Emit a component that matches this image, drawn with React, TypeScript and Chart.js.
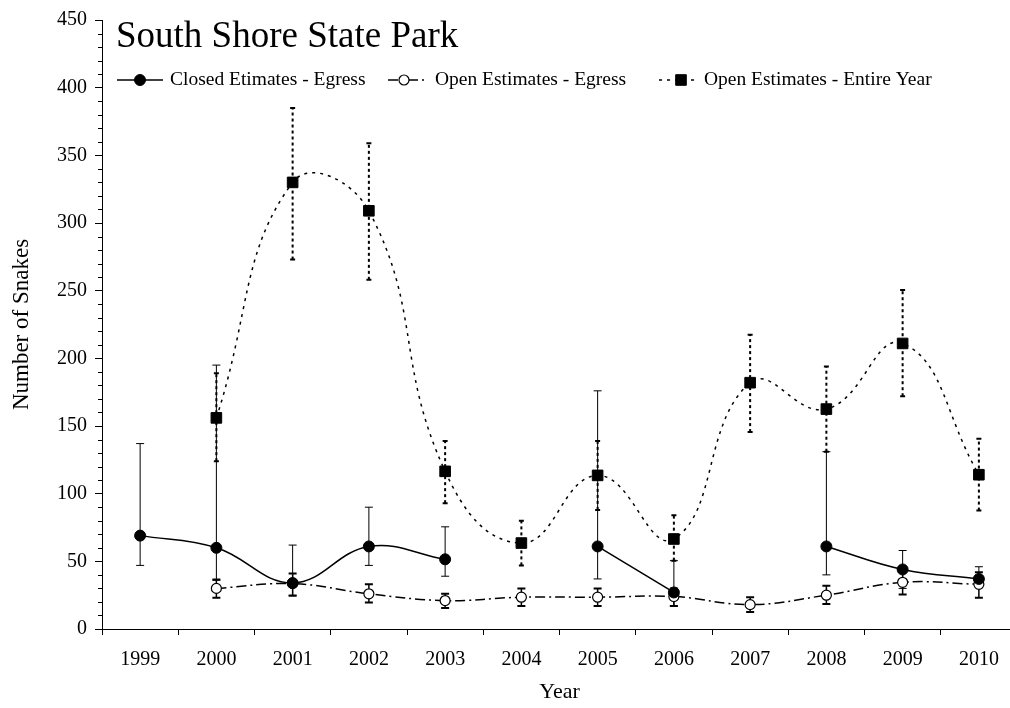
import React, { useEffect, useRef } from 'react';
import { Chart, registerables } from 'chart.js';

Chart.register(...registerables);

const years = ['1999', '2000', '2001', '2002', '2003', '2004', '2005', '2006', '2007', '2008', '2009', '2010'];

const closedEgress = [69, 60, 34, 61, 51.5, null, 61, 27, null, 61, 44, 37];
const closedLow = [47, 36, 25, 47, 39, null, 37, 17, null, 40, 30, 31];
const closedHigh = [137, 195, 62, 90, 75.5, null, 176, 50.5, null, 131, 58, 46];

const openEgress = [null, 30, 33.5, 26, 21, 23.5, 23.5, 24, 18, 25, 34.5, 33];
const openLow = [null, 23, 24.5, 19.5, 15.5, 17, 17, 17, 12.5, 18.5, 25.5, 23];
const openHigh = [null, 36.5, 41, 33, 26, 30, 30, 30, 23.5, 32, 43, 42];

const entireYear = [null, 156, 330, 309, 116.5, 63.5, 113.5, 66.5, 182, 162.5, 211, 114];
const entireLow = [null, 124, 273, 258, 93, 47, 88, 50.5, 145.5, 131, 172, 87.5];
const entireHigh = [null, 189, 385, 359, 139, 80, 139, 84, 217.5, 194, 250.5, 140.5];

const yTicks = [0, 50, 100, 150, 200, 250, 300, 350, 400, 450];

const seriesNames = ['Closed Etimates - Egress', 'Open Estimates - Egress', 'Open Estimates - Entire Year'];
const chartTitle = 'South Shore State Park';

const SERIF = '"Liberation Serif", "Times New Roman", serif';

const errorBars = [
  { low: closedLow, high: closedHigh, width: 1, cap: 4, dash: [] as number[], capWidth: 1 },
  { low: openLow, high: openHigh, width: 1.5, cap: 4, dash: [] as number[], capWidth: 2 },
  { low: entireLow, high: entireHigh, width: 2, cap: 2.5, dash: [3, 3], capWidth: 2 },
];

const errorBarPlugin = {
  id: 'errorBars',
  beforeDatasetsDraw(chart: any) {
    const { ctx, scales } = chart;
    const x = scales.x;
    const y = scales.y;
    ctx.save();
    ctx.strokeStyle = '#000';
    errorBars.forEach((eb) => {
      eb.low.forEach((lo, i) => {
        const hi = eb.high[i];
        if (lo == null || hi == null) return;
        const px = x.getPixelForValue(i);
        const pLo = y.getPixelForValue(lo);
        const pHi = y.getPixelForValue(hi);
        ctx.lineWidth = eb.width;
        ctx.setLineDash(eb.dash);
        ctx.beginPath();
        ctx.moveTo(px, pLo);
        ctx.lineTo(px, pHi);
        ctx.stroke();
        ctx.setLineDash([]);
        ctx.lineWidth = eb.capWidth;
        ctx.beginPath();
        ctx.moveTo(px - eb.cap, pLo);
        ctx.lineTo(px + eb.cap, pLo);
        ctx.moveTo(px - eb.cap, pHi);
        ctx.lineTo(px + eb.cap, pHi);
        ctx.stroke();
      });
    });
    ctx.restore();
  },
};

const minorTickPlugin = {
  id: 'minorTicks',
  afterDraw(chart: any) {
    const { ctx, scales, chartArea } = chart;
    const y = scales.y;
    ctx.save();
    ctx.strokeStyle = '#000';
    ctx.lineWidth = 1;
    ctx.beginPath();
    for (let v = 0; v <= 450; v += 10) {
      if (v % 50 === 0) continue;
      const py = Math.round(y.getPixelForValue(v)) + 0.5;
      ctx.moveTo(chartArea.left - 4, py);
      ctx.lineTo(chartArea.left, py);
    }
    ctx.stroke();
    ctx.restore();
  },
};

const legendItems = [
  { x: 117, lineLen: 46, marker: 140, textX: 170 },
  { x: 388, lineLen: 40, marker: 404, textX: 435 },
  { x: 659, lineLen: 40, marker: 681, textX: 704 },
];

const overlayPlugin = {
  id: 'overlay',
  afterDraw(chart: any) {
    const { ctx } = chart;
    ctx.save();
    ctx.fillStyle = '#000';
    ctx.font = `37px ${SERIF}`;
    ctx.textBaseline = 'alphabetic';
    ctx.textAlign = 'left';
    ctx.fillText(chartTitle, 116, 47);

    const ly = 80;
    ctx.font = `19.5px ${SERIF}`;
    ctx.textBaseline = 'middle';
    chart.data.datasets.forEach((ds: any, i: number) => {
      const it = legendItems[i];
      ctx.strokeStyle = '#000';
      ctx.lineWidth = ds.borderWidth;
      ctx.setLineDash(ds.borderDash || []);
      ctx.beginPath();
      ctx.moveTo(it.x, ly);
      ctx.lineTo(it.x + it.lineLen, ly);
      ctx.stroke();
      ctx.setLineDash([]);
      const cx = it.marker;
      ctx.lineWidth = ds.pointBorderWidth;
      ctx.fillStyle = ds.pointBackgroundColor;
      ctx.beginPath();
      if (ds.pointStyle === 'rect') {
        const s = Math.SQRT1_2 * ds.pointRadius;
        ctx.rect(cx - s, ly - s, 2 * s, 2 * s);
      } else {
        ctx.arc(cx, ly, ds.pointRadius, 0, Math.PI * 2);
      }
      ctx.fill();
      ctx.stroke();
      ctx.fillStyle = '#000';
      ctx.fillText(ds.label, it.textX, ly);
    });
    ctx.restore();
  },
};

export default function App() {
  const ref = useRef<HTMLCanvasElement>(null);
  useEffect(() => {
    if (!ref.current) return;
    const chart = new Chart(ref.current, {
      type: 'line',
      data: {
        labels: years,
        datasets: [
          {
            label: seriesNames[0],
            data: closedEgress,
            borderColor: '#000',
            borderWidth: 1.5,
            borderDash: [],
            tension: 0.4,
            pointStyle: 'circle',
            pointRadius: 5.5,
            pointBackgroundColor: '#000',
            pointBorderColor: '#000',
            pointBorderWidth: 1,
            spanGaps: false,
          },
          {
            label: seriesNames[1],
            data: openEgress,
            borderColor: '#000',
            borderWidth: 1.5,
            borderDash: [10, 4, 2, 4],
            tension: 0.4,
            pointStyle: 'circle',
            pointRadius: 5,
            pointBackgroundColor: '#fff',
            pointBorderColor: '#000',
            pointBorderWidth: 1.2,
            spanGaps: false,
          },
          {
            label: seriesNames[2],
            data: entireYear,
            borderColor: '#000',
            borderWidth: 1.5,
            borderDash: [3, 5],
            tension: 0.45,
            pointStyle: 'rect',
            pointRadius: 7.5,
            pointBackgroundColor: '#000',
            pointBorderColor: '#000',
            pointBorderWidth: 1,
            spanGaps: false,
          },
        ],
      },
      options: {
        animation: false,
        responsive: false,
        layout: { padding: { left: 0, top: 16, right: 13, bottom: 0 } },
        plugins: {
          legend: { display: false },
          tooltip: { enabled: false },
          title: { display: false },
        },
        scales: {
          x: {
            type: 'category',
            offset: true,
            afterFit: (s: any) => { s.height = 79; },
            grid: {
              display: true,
              drawOnChartArea: false,
              offset: true,
              tickLength: 6,
              color: '#000',
              lineWidth: 1,
            },
            border: { display: true, color: '#000', width: 1 },
            ticks: {
              color: '#000',
              font: { family: SERIF, size: 20 },
              padding: 13,
              maxRotation: 0,
              autoSkip: false,
            },
            title: {
              display: true,
              text: 'Year',
              color: '#000',
              font: { family: SERIF, size: 22 },
              padding: { top: 0, bottom: 3 },
            },
          },
          y: {
            type: 'linear',
            min: 0,
            max: 450,
            afterFit: (s: any) => { s.width = 102; },
            afterBuildTicks: (s: any) => { s.ticks = yTicks.map((v) => ({ value: v })); },
            grid: {
              display: true,
              drawOnChartArea: false,
              tickLength: 7,
              color: '#000',
              lineWidth: 1,
            },
            border: { display: true, color: '#000', width: 1 },
            ticks: {
              color: '#000',
              font: { family: SERIF, size: 20 },
              padding: 8,
            },
            title: {
              display: true,
              text: 'Number of Snakes',
              color: '#000',
              font: { family: SERIF, size: 23 },
              padding: { top: 8, bottom: 0 },
            },
          },
        },
      } as any,
      plugins: [errorBarPlugin, minorTickPlugin, overlayPlugin],
    });
    return () => chart.destroy();
  }, []);

  return (
    <div style={{ position: 'absolute', left: 0, top: 0, width: 1010, height: 708, overflow: 'hidden', background: '#fff' }}>
      <canvas ref={ref} width={1030} height={708} style={{ display: 'block' }} />
    </div>
  );
}
